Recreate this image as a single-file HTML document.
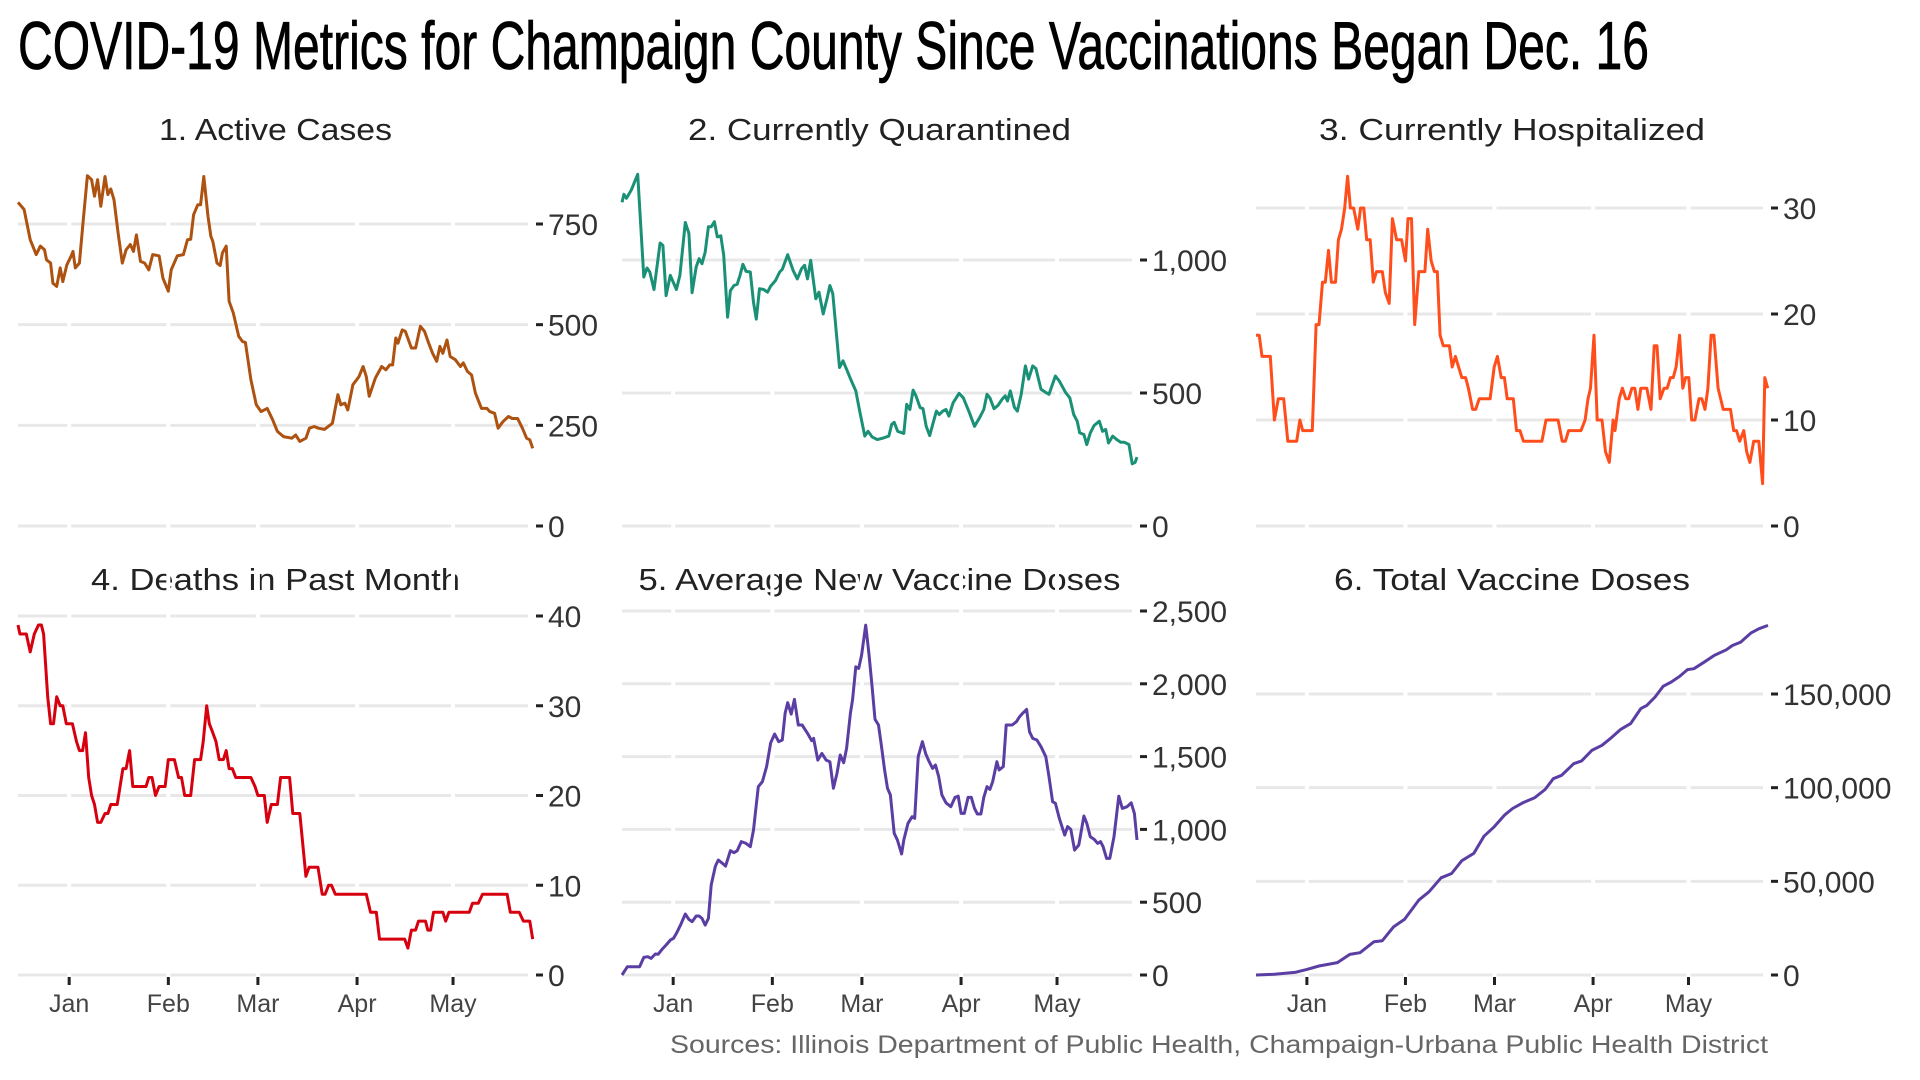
<!DOCTYPE html>
<html><head><meta charset="utf-8"><style>
html,body{margin:0;padding:0;background:#fff;width:1920px;height:1080px;overflow:hidden}
svg text{font-family:"Liberation Sans",sans-serif}
</style></head><body>
<svg id="chart" width="1920" height="1080" viewBox="0 0 1920 1080" xmlns="http://www.w3.org/2000/svg">
<text x="18" y="69" font-size="68" fill="#000" stroke="#000" stroke-width="0.8" textLength="1631" lengthAdjust="spacingAndGlyphs">COVID-19 Metrics for Champaign County Since Vaccinations Began Dec. 16</text>
<text x="1768" y="1053" font-size="25" fill="#666" text-anchor="end" textLength="1098" lengthAdjust="spacingAndGlyphs">Sources: Illinois Department of Public Health, Champaign-Urbana Public Health District</text>
</svg>
<script>
const monthLabels=["Jan","Feb","Mar","Apr","May"];
const monthDays=[16,47,75,106,136];
const dayMax=161;

const p1Days=[0,1.9,3.8,5.7,7.0,8.3,8.9,10.2,10.9,12.1,13.2,14.0,15.3,16.6,17.2,17.9,19.2,20.4,21.7,23.0,23.9,24.9,25.9,27.2,28.1,29.0,30.0,31.3,32.6,33.8,35.1,36.1,37.0,38.3,39.6,40.9,42.1,44.1,45.3,47.0,47.9,49.8,51.7,53.0,54.0,54.9,56.2,57.1,58.1,59.4,60.3,60.9,62.2,63.2,63.9,65.1,66.0,67.3,69.0,70.2,71.1,72.8,74.5,76.0,77.9,79.6,81.1,83.0,85.6,86.8,88.1,90.0,91.1,92.6,93.9,95.8,98.3,100.0,100.9,102.2,103.1,104.7,106.6,107.9,108.9,109.8,111.7,113.7,115.0,116.2,117.1,118.1,118.8,120.1,121.1,123.0,124.3,125.8,127.1,128.4,129.6,130.9,131.9,132.8,134.1,135.1,136.7,138.3,139.2,140.5,141.8,143.0,144.9,146.6,147.5,149.0,150.1,151.6,153.3,154.5,156.2,157.7,159.0,160.0,160.9];
const p1Values=[804,786,711,674,695,686,661,653,603,595,641,607,649,670,682,641,653,761,870,860,819,860,794,868,823,837,810,728,653,686,699,682,723,657,653,636,674,671,616,583,636,671,674,711,712,773,798,798,868,769,719,707,653,647,678,695,558,529,471,458,456,363,301,284,292,264,235,222,218,226,210,218,243,247,243,240,255,326,301,305,288,351,371,396,371,322,367,396,388,400,400,467,454,487,483,442,442,496,483,454,429,409,446,429,462,421,413,396,405,384,375,330,292,292,284,280,243,259,272,267,267,243,218,214,193];

const p2Days=[0,0.6,1.4,2.9,4.9,6.8,7.8,8.7,10.0,11.9,12.8,13.8,15.1,17.0,18.1,19.8,20.9,21.9,23.2,24.1,25.0,26.0,27.0,27.9,28.9,29.8,30.9,31.8,33.0,33.9,35.0,36.0,36.9,37.8,38.8,40.1,41.1,42.0,43.0,44.3,45.5,46.5,48.0,49.3,50.1,51.8,53.5,54.8,56.1,57.1,58.0,59.0,60.6,61.6,62.9,64.1,65.0,65.9,67.0,68.0,69.1,70.2,71.4,73.1,74.4,75.9,76.9,78.2,79.8,81.7,83.4,84.3,85.1,86.2,88.1,89.0,90.0,91.0,91.9,93.2,94.1,95.1,96.2,97.4,98.3,99.2,100.3,101.3,102.2,103.5,105.4,106.7,108.6,110.2,111.8,113.1,114.1,115.0,116.3,117.5,118.8,119.8,120.5,121.4,122.7,123.6,124.8,126.1,127.1,128.4,129.4,131.0,132.2,133.5,135.5,136.7,138.7,140.0,141.2,142.3,143.1,144.4,145.3,146.4,147.6,149.2,150.2,151.2,152.1,153.4,154.7,155.9,157.0,158.5,159.5,160.4,161.0];
const p2Values=[1217,1247,1232,1263,1322,936,970,955,889,1064,1055,866,942,889,942,1141,1100,877,974,1005,986,1030,1125,1125,1144,1087,1091,1018,785,885,904,909,942,984,957,955,841,778,892,889,879,902,923,955,965,1020,961,929,967,980,929,999,854,879,797,854,904,873,728,596,621,589,554,508,426,338,356,335,325,331,338,382,390,356,348,457,438,511,489,445,441,375,340,394,432,419,432,438,413,463,499,482,426,375,407,438,495,482,441,453,476,489,470,508,445,432,495,602,552,602,592,514,504,495,564,545,501,482,419,394,350,344,306,350,378,394,356,363,312,338,325,315,315,306,234,239,259];

const p3Days=[0,1,1.9,4.5,5.8,7.0,8.7,10.0,12.8,13.8,14.7,17.7,18.9,19.8,20.9,21.8,22.8,23.7,25.0,25.9,26.9,27.9,28.8,29.7,30.7,32.0,32.9,33.9,34.8,35.9,36.9,37.9,39.7,40.7,41.9,42.9,44.2,45.8,47.0,47.8,48.9,49.9,51.2,53.1,54.0,55.1,56.1,57.0,57.9,58.9,60.8,61.7,62.7,64.7,65.9,66.8,68.1,69.1,70.2,73.6,74.9,75.9,77.1,78.1,79.0,80.9,81.9,83.0,84.1,89.9,91.2,95.0,96.3,97.3,98.3,102.2,103.5,104.4,105.2,106.3,107.3,108.8,109.9,111.1,112.3,112.9,114.2,115.2,116.3,117.2,118.2,119.1,120.1,121.0,122.9,124.2,125.2,126.1,127.1,128.3,129.3,130.3,131.2,132.1,133.2,134.2,135.1,136.1,137.0,138.0,139.3,140.2,141.2,142.1,143.1,144.0,145.3,146.9,149.2,150.2,151.1,152.1,153.4,154.3,155.3,156.5,158.1,159.3,160.0,160.9];
const p3Values=[18,18,16,16,10,12,12,8,8,10,9,9,19,19,23,23,26,23,23,27,28,30,33,30,30,28,30,30,27,27,23,24,24,22,21,29,27,27,25,29,29,19,24,24,28,25,24,24,18,17,17,15,16,14,14,13,11,11,12,12,15,16,14,14,12,12,9,9,8,8,10,10,8,8,9,9,10,12,13,18,10,10,7,6,10,9,12,13,12,12,13,13,11,13,13,11,17,17,12,13,13,14,14,15,18,13,14,14,10,10,12,12,11,13,18,18,13,11,11,9,9,8,9,7,6,8,8,4,14,13];

const p4Days=[0,0.6,2.6,3.8,5.1,6.4,7.3,8.0,9.3,10.2,11.1,12.1,13.2,14.0,15.1,17.0,18.3,19.2,20.2,21.1,22.1,23.0,23.9,24.9,25.9,27.2,28.1,29.0,31.0,32.8,33.8,34.9,35.9,40.0,40.9,41.9,43.0,44.1,46.0,47.0,48.9,50.2,51.1,52.1,54.0,55.2,57.1,57.9,59.0,59.8,60.9,61.9,62.9,64.2,65.1,66.0,67.0,68.1,72.8,74.1,75.0,77.0,77.9,79.2,81.1,82.1,84.9,85.9,88.1,90.0,91.0,93.8,95.1,96.0,97.1,98.0,99.2,108.9,110.2,112.0,113.0,120.9,121.9,123.0,124.3,125.2,127.4,128.1,129.0,129.9,132.8,133.7,134.7,141.1,142.1,143.9,145.2,152.9,153.9,156.7,158.0,160.0,160.9];
const p4Values=[39,38,38,36,38,39,39,38,31,28,28,31,30,30,28,28,26,25,25,27,22,20,19,17,17,18,18,19,19,23,23,25,21,21,22,22,20,21,21,24,24,22,22,20,20,24,24,26,30,28,27,26,24,24,25,23,23,22,22,21,20,20,17,19,19,22,22,18,18,11,12,12,9,9,10,10,9,9,7,7,4,4,3,5,5,6,6,5,5,7,7,6,7,7,8,8,9,9,7,7,6,6,4];

const p5Days=[0,1.7,5.5,6.8,8.1,9.1,10.4,11.3,12.5,13.8,15.1,16.1,17.0,18.3,19.8,20.9,21.9,23.2,24.1,25.0,26.0,27.0,27.9,29.2,30.1,31.4,32.4,33.9,35.0,36.0,37.3,38.8,40.1,41.1,42.6,43.9,45.2,46.5,47.7,49.0,50.1,51.0,51.8,52.9,53.9,55.1,56.3,58.0,59.3,59.9,61.2,62.5,63.8,65.0,66.1,67.2,68.2,69.3,70.2,71.4,72.1,73.1,74.0,74.9,76.2,77.2,78.2,79.1,80.2,81.0,82.1,83.0,83.9,85.1,86.1,87.4,88.1,89.4,90.7,91.5,92.6,93.9,94.9,95.8,97.1,98.0,99.0,100.0,101.3,102.8,104.1,105.1,106.0,107.0,108.2,109.2,110.2,111.1,112.2,113.1,114.1,115.0,115.9,117.2,117.9,119.2,120.1,122.0,123.3,124.3,125.2,126.5,127.4,128.4,129.7,131.0,132.5,133.5,134.6,135.5,136.7,138.4,139.3,140.3,141.5,142.8,144.4,145.3,146.4,147.6,148.7,149.6,150.4,151.5,152.5,153.8,155.3,156.4,157.9,159.2,160.2,161.0];
const p5Values=[0,57,57,121,126,114,144,142,176,206,240,252,286,343,419,382,366,405,405,389,343,389,618,748,790,767,748,854,840,854,916,904,881,996,1293,1328,1431,1595,1655,1602,1614,1797,1870,1792,1893,1717,1717,1660,1609,1625,1476,1522,1476,1465,1282,1385,1511,1458,1557,1797,1893,2117,2106,2197,2403,2209,1980,1756,1717,1591,1408,1282,1236,973,927,831,927,1042,1087,1076,1499,1602,1522,1476,1419,1442,1362,1236,1183,1156,1220,1229,1110,1110,1220,1220,1144,1106,1106,1220,1293,1275,1328,1465,1408,1431,1717,1717,1740,1774,1797,1824,1671,1625,1614,1568,1499,1362,1190,1179,1076,961,1019,1000,858,893,1092,1042,950,932,904,916,881,801,801,950,1229,1144,1156,1183,1110,927];

const p6Days=[0,5.8,12.2,16.0,19.8,25.6,29.5,32.7,37.1,39.7,43.3,46.7,51.2,54.4,58.2,61.5,64.7,68.5,71.7,74.9,78.1,80.7,83.9,87.7,90.9,93.5,96.1,99.9,102.4,105.6,108.8,111.4,114.6,117.8,121.0,122.9,125.5,128.0,130.6,133.2,135.7,137.7,140.9,144.1,147.9,149.8,152.4,155.6,158.1,161.0];
const p6Values=[0,350,1400,3000,4800,6600,11000,11900,17800,18300,25800,29700,40000,44400,51900,54200,61000,64900,74100,79100,85300,88900,91900,94700,99000,104800,106600,112800,114300,119900,122600,126200,131000,134200,142200,143900,148400,154100,156400,159400,163000,163500,167000,170600,173600,175900,177700,182500,184800,186600];

const p1Ticks=[0,250,500,750], p2Ticks=[0,500,1000], p3Ticks=[0,10,20,30];
const p4Ticks=[0,10,20,30,40], p5Ticks=[0,500,1000,1500,2000,2500], p6Ticks=[0,50000,100000,150000];

const NS="http://www.w3.org/2000/svg";
const svg=document.getElementById('chart');
function mk(tag,attrs){const e=document.createElementNS(NS,tag);for(const k in attrs)e.setAttribute(k,attrs[k]);return e;}
function fmt(v){return v.toLocaleString('en-US');}

const panels=[
 {id:'active-cases',title:'1. Active Cases',tw:233,x0:18,x1:533,y0:526,refV:750,refY:224,ticks:p1Ticks,days:p1Days,vals:p1Values,color:'#ad5210',row:0},
 {id:'currently-quarantined',title:'2. Currently Quarantined',tw:383,x0:622,x1:1137,y0:526,refV:1000,refY:260,ticks:p2Ticks,days:p2Days,vals:p2Values,color:'#1a9176',row:0},
 {id:'currently-hospitalized',title:'3. Currently Hospitalized',tw:386,x0:1256,x1:1768,y0:526,refV:30,refY:208,ticks:p3Ticks,days:p3Days,vals:p3Values,color:'#ff4d1c',row:0},
 {id:'deaths-past-month',title:'4. Deaths in Past Month',tw:369,x0:18,x1:533,y0:975,refV:40,refY:616,ticks:p4Ticks,days:p4Days,vals:p4Values,color:'#d7000f',row:1},
 {id:'average-new-doses',title:'5. Average New Vaccine Doses',tw:482,x0:622,x1:1137,y0:975,refV:2500,refY:611,ticks:p5Ticks,days:p5Days,vals:p5Values,color:'#5b3ea3',row:1},
 {id:'total-doses',title:'6. Total Vaccine Doses',tw:356,x0:1256,x1:1768,y0:975,refV:150000,refY:694,ticks:p6Ticks,days:p6Days,vals:p6Values,color:'#5b3ea3',row:1}
];

panels.forEach(p=>{
  const g=mk('g',{});
  
  
  svg.appendChild(g);
  const xs=d=>p.x0+(p.x1-p.x0)*d/dayMax;
  const ys=v=>p.y0-(p.y0-p.refY)*v/p.refV;
  const t=mk('text',{x:(p.x0+p.x1)/2,y:p.row?590:140,'font-size':31,fill:'#222','text-anchor':'middle',textLength:p.tw,lengthAdjust:'spacingAndGlyphs'});
  
  
  t.textContent=p.title;g.appendChild(t);
  p.ticks.forEach(v=>{
    const y=ys(v);
    const gl=mk('line',{x1:p.x0,x2:p.x1-5,y1:y,y2:y,stroke:'#e8e8e8','stroke-width':3});
    
    
    g.appendChild(gl);
    const tk=mk('line',{x1:p.x1+3,x2:p.x1+10,y1:y,y2:y,stroke:'#222','stroke-width':3});
    
    
    g.appendChild(tk);
    const lb=mk('text',{x:p.x1+15,y:y+11,'font-size':30,fill:'#333'});
    
    
    lb.textContent=fmt(v);g.appendChild(lb);
  });
  monthDays.forEach((d,i)=>{
    const x=xs(d);
    const gap=mk('line',{x1:x,x2:x,y1:p.refY-60,y2:p.y0+3,stroke:'#fff','stroke-width':4});
    
    
    g.appendChild(gap);
    if(p.row===1){
      const mt=mk('line',{x1:x,x2:x,y1:p.y0+2,y2:p.y0+10,stroke:'#222','stroke-width':3});
      
      
      g.appendChild(mt);
      const ml=mk('text',{x:x,y:p.y0+37,'font-size':25,fill:'#444','text-anchor':'middle'});
      
      
      ml.textContent=monthLabels[i];g.appendChild(ml);
    }
  });
  const pts=p.days.map((d,i)=>xs(d).toFixed(1)+','+ys(p.vals[i]).toFixed(1)).join(' ');
  const line=mk('polyline',{points:pts,fill:'none',stroke:p.color,'stroke-width':3,'stroke-linejoin':'round'});
  
  
  g.appendChild(line);
});
</script>
</body></html>
